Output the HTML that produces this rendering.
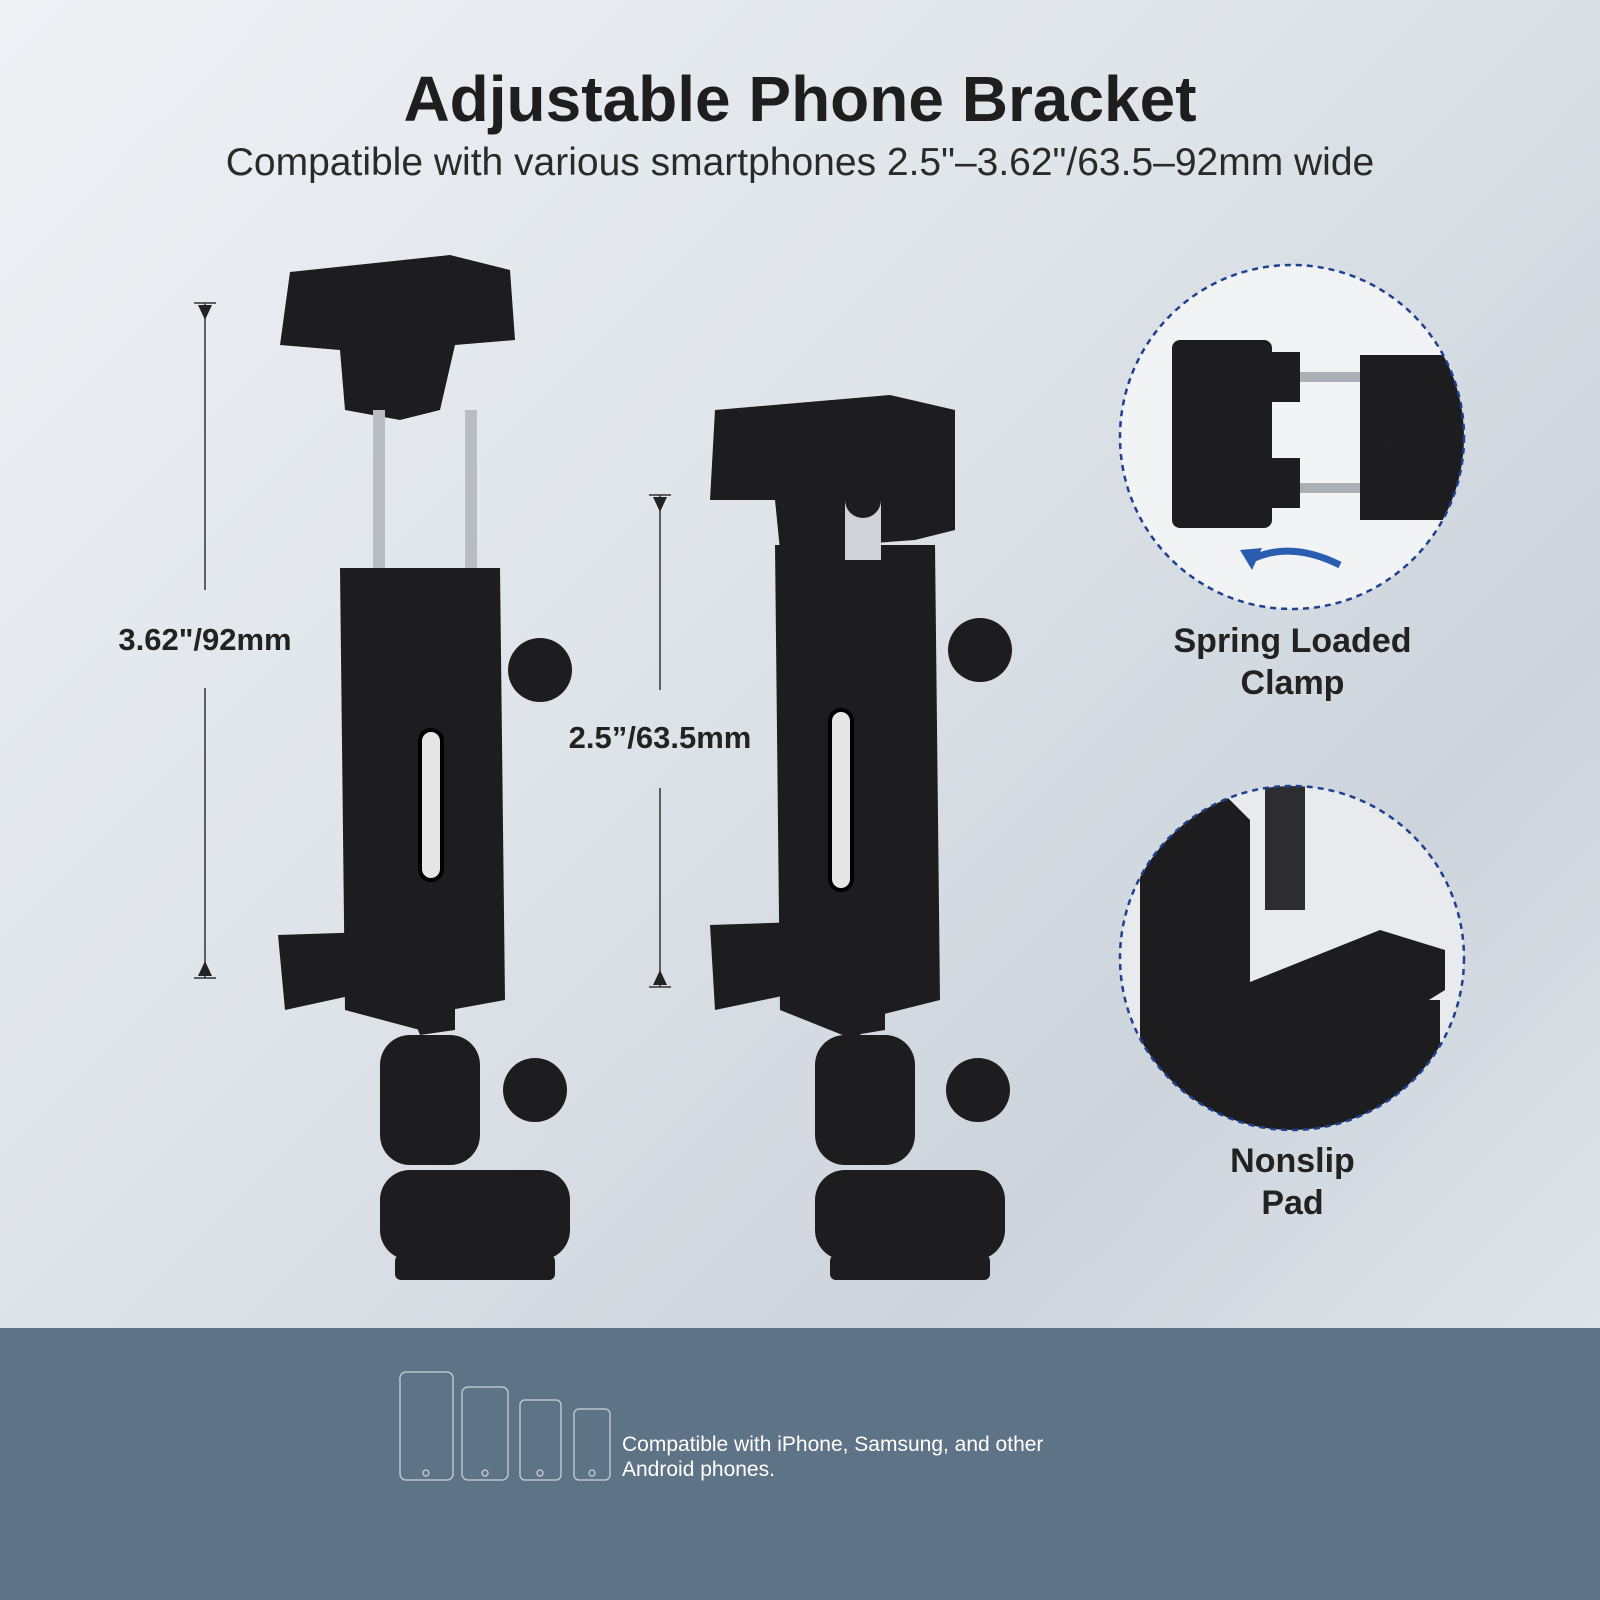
<!DOCTYPE html>
<html><head><meta charset="utf-8"><style>
html,body{margin:0;padding:0}
body{width:1600px;height:1600px;position:relative;overflow:hidden;font-family:"Liberation Sans",sans-serif;
background:linear-gradient(135deg,#eef1f4 0%,#dfe4e9 40%,#cdd4dc 70%,#e6eaee 100%);}
.t{position:absolute;left:0;width:1600px;text-align:center;color:#1e1e1e}
.lbl{position:absolute;font-weight:bold;color:#222;font-size:31px;text-align:center}
</style></head><body>
<div class="t" style="top:62px;font-size:64px;font-weight:bold;">Adjustable Phone Bracket</div>
<div class="t" style="top:141px;font-size:39px;color:#2a2a2a">Compatible with various smartphones 2.5"–3.62"/63.5–92mm wide</div>

<svg width="1600" height="1600" style="position:absolute;left:0;top:0">
<g stroke="#333" stroke-width="1.5">
<line x1="205" y1="303" x2="205" y2="590"/><line x1="205" y1="688" x2="205" y2="978"/>
<line x1="194" y1="303" x2="216" y2="303"/><line x1="194" y1="978" x2="216" y2="978"/>
<line x1="660" y1="495" x2="660" y2="690"/><line x1="660" y1="788" x2="660" y2="987"/>
<line x1="649" y1="495" x2="671" y2="495"/><line x1="649" y1="987" x2="671" y2="987"/>
</g>
<path d="M198,305 L212,305 L205,320z M198,976 L212,976 L205,961z M653,497 L667,497 L660,512z M653,985 L667,985 L660,970z" fill="#222"/>

<g fill="#1d1d1f">
<path d="M290,272 L450,255 L510,270 L515,340 L455,345 L440,410 L400,420 L345,410 L340,350 L280,345z"/>
<rect x="373" y="410" width="12" height="160" fill="#b9bcc0"/><rect x="465" y="410" width="12" height="160" fill="#b9bcc0"/>
<path d="M340,568 L500,568 L505,1000 L450,1010 L420,1030 L345,1010z"/>
<path d="M278,935 L430,930 L455,950 L455,1030 L420,1035 L400,985 L285,1010z"/>
<circle cx="540" cy="670" r="32"/>
<rect x="380" y="1035" width="100" height="130" rx="30"/>
<circle cx="535" cy="1090" r="32"/>
<rect x="380" y="1170" width="190" height="90" rx="30"/>
<rect x="395" y="1255" width="160" height="25" rx="6"/>
</g>
<rect x="420" y="730" width="22" height="150" rx="11" fill="#e6e6e6" stroke="#000" stroke-width="4"/>

<g fill="#1d1d1f">
<path d="M715,410 L890,395 L955,410 L955,530 L915,540 L780,550 L775,500 L710,500z"/>
<path d="M775,545 L935,545 L940,1000 L880,1015 L855,1040 L780,1010z"/>
<path d="M710,925 L860,920 L885,945 L885,1030 L855,1035 L835,985 L715,1010z"/>
<circle cx="980" cy="650" r="32"/>
<rect x="815" y="1035" width="100" height="130" rx="30"/>
<circle cx="978" cy="1090" r="32"/>
<rect x="815" y="1170" width="190" height="90" rx="30"/>
<rect x="830" y="1255" width="160" height="25" rx="6"/>
</g>
<rect x="830" y="710" width="22" height="180" rx="11" fill="#e6e6e6" stroke="#000" stroke-width="4"/>
<path d="M845,500 a18,18 0 0 0 36,0 v60 h-36z" fill="#cfd3d8"/>

<clipPath id="c1"><circle cx="1292" cy="437" r="172"/></clipPath>
<clipPath id="c2"><circle cx="1292" cy="958" r="172"/></clipPath>
<circle cx="1292" cy="437" r="172" fill="#f2f3f5"/>
<g clip-path="url(#c1)" fill="#1d1d1f">
<rect x="1172" y="340" width="100" height="188" rx="8"/>
<rect x="1268" y="352" width="32" height="50"/><rect x="1268" y="458" width="32" height="50"/>
<rect x="1300" y="372" width="60" height="10" fill="#aab0b5"/><rect x="1300" y="483" width="60" height="10" fill="#aab0b5"/>
<path d="M1360,355 L1470,355 L1470,520 L1360,520 L1360,460 a20,20 0 0 1 40,0 h0 a20,20 0 0 0 -40,0 L1360,412z"/>
</g>
<path d="M1340,565 Q1290,540 1250,560" stroke="#2a5db0" stroke-width="7" fill="none"/>
<path d="M1240,550 L1262,548 L1252,570z" fill="#2a5db0"/>
<circle cx="1292" cy="437" r="172" fill="none" stroke="#1f3f8f" stroke-width="2.5" stroke-dasharray="6,5"/>

<circle cx="1292" cy="958" r="172" fill="#e8eaed"/>
<g clip-path="url(#c2)" fill="#1d1d1f">
<path d="M1140,820 L1220,790 L1250,820 L1250,1000 L1440,1000 L1440,1130 L1140,1130z"/>
<path d="M1180,1010 L1380,930 L1445,950 L1445,990 L1300,1080 L1190,1080z"/>
<rect x="1265" y="780" width="40" height="130" fill="#2d2d30"/>
</g>
<circle cx="1292" cy="958" r="172" fill="none" stroke="#1f3f8f" stroke-width="2.5" stroke-dasharray="6,5"/>

<rect x="0" y="1328" width="1600" height="272" fill="#5f7386"/>
<g fill="none" stroke="#b9c5d0" stroke-width="1.5">
<rect x="400" y="1372" width="53" height="108" rx="6"/>
<rect x="462" y="1387" width="46" height="93" rx="6"/>
<rect x="520" y="1400" width="41" height="80" rx="5"/>
<rect x="574" y="1409" width="36" height="71" rx="5"/>
<circle cx="426" cy="1473" r="3"/><circle cx="485" cy="1473" r="3"/><circle cx="540" cy="1473" r="3"/><circle cx="592" cy="1473" r="3"/>
</g>
</svg>

<div class="lbl" style="left:100px;top:622px;width:210px">3.62"/92mm</div>
<div class="lbl" style="left:555px;top:720px;width:210px">2.5”/63.5mm</div>
<div class="lbl" style="left:1140px;top:620px;width:305px;font-size:34px;line-height:42px">Spring Loaded<br>Clamp</div>
<div class="lbl" style="left:1140px;top:1140px;width:305px;font-size:34px;line-height:42px">Nonslip<br>Pad</div>
<div style="position:absolute;left:622px;top:1432px;color:#fff;font-size:21px;line-height:25px">Compatible with iPhone, Samsung, and other<br>Android phones.</div>
</body></html>
